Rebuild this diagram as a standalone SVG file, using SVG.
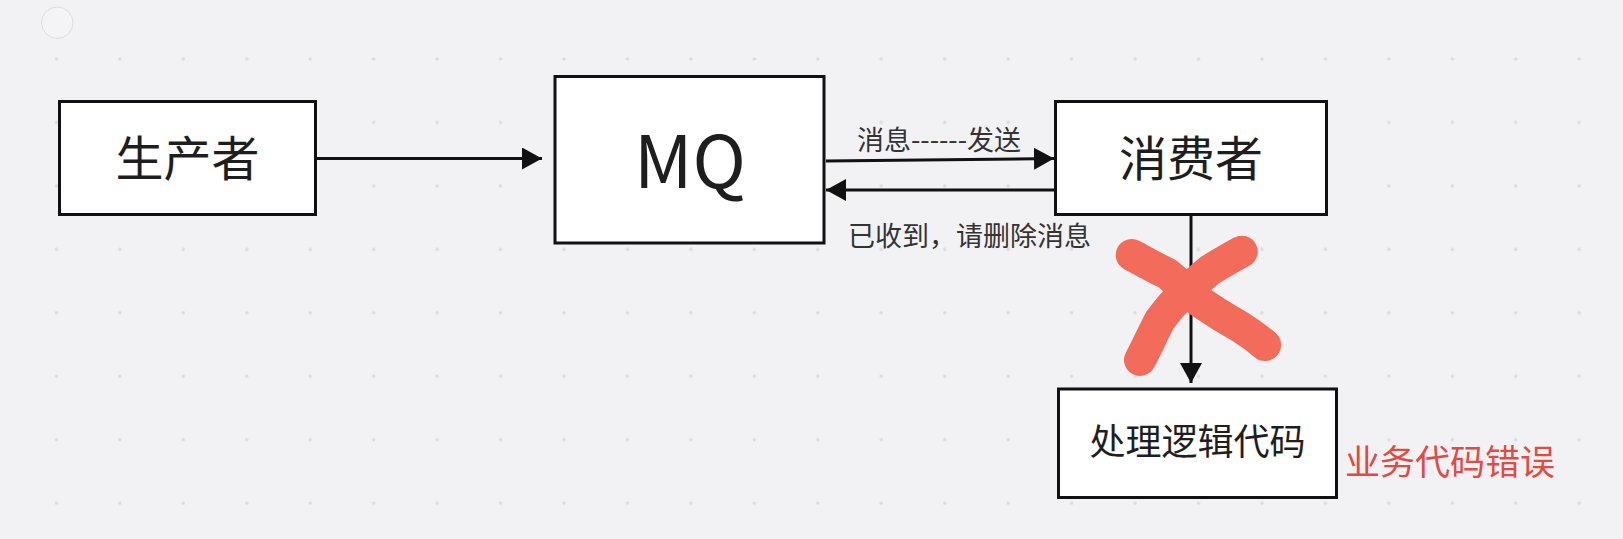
<svg xmlns="http://www.w3.org/2000/svg" width="1623" height="539" viewBox="0 0 1623 539">
<style>
.box{fill:#ffffff;stroke:#111111;stroke-width:3}
.edge{fill:none;stroke:#111111;stroke-width:3}
.t{font-family:"Noto Sans CJK SC","Noto Sans",sans-serif;fill:#1e1e1e;text-anchor:middle}
.lbl{font-family:"Noto Sans CJK SC","Noto Sans",sans-serif;fill:#333333;font-size:27px;text-anchor:middle}
.x{fill:none;stroke:#f36b5a;stroke-width:32;stroke-linecap:round;stroke-linejoin:round}
</style>
<defs>
<pattern id="dots" patternUnits="userSpaceOnUse" x="24.675" y="27.275" width="63.45" height="63.45">
<circle cx="31.725" cy="31.725" r="1.7" fill="#d9d9de"/>
</pattern>
<marker id="arr" markerUnits="userSpaceOnUse" markerWidth="20" markerHeight="22" refX="20" refY="11" orient="auto">
<path d="M0,0 L20,11 L0,22 z" fill="#111111"/>
</marker>
</defs>
<rect x="0" y="0" width="1623" height="539" fill="#f2f2f5"/>
<rect x="0" y="0" width="1623" height="539" fill="url(#dots)"/>
<circle cx="57.3" cy="22.7" r="15.7" fill="#f4f4f6" stroke="#dcdcdf" stroke-width="1"/>

<g id="connectors">
<line class="edge" x1="317" y1="158.5" x2="542" y2="158.5" marker-end="url(#arr)"/>
<line class="edge" x1="826" y1="161" x2="1054" y2="158.5" marker-end="url(#arr)"/>
<line class="edge" x1="1054" y1="190" x2="826" y2="190" marker-end="url(#arr)"/>
<line class="edge" x1="1191" y1="215" x2="1191" y2="383" marker-end="url(#arr)"/>
<text class="lbl" x="939" y="150">消息------发送</text>
<text class="lbl" x="969.5" y="246">已收到，请删除消息</text>
</g>

<g id="producer">
<rect class="box" x="59.5" y="101.5" width="256" height="113"/>
<text class="t" x="187.5" y="175.5" font-size="48">生产者</text>
</g>

<g id="mq">
<rect class="box" x="555" y="76.5" width="269" height="166.5"/>
<text class="t" x="690" y="188" font-size="72">MQ</text>
</g>

<g id="consumer">
<rect class="box" x="1055.5" y="101.5" width="271" height="113"/>
<text class="t" x="1191" y="175.5" font-size="48">消费者</text>
</g>

<g id="logic">
<rect class="box" x="1058.5" y="389" width="278" height="108.5"/>
<text class="t" x="1197.5" y="455" font-size="36">处理逻辑代码</text>
</g>

<g id="cross">
<path class="x" d="M1131.7,255 C1145,262 1155,268 1166.7,273.3 C1180,284 1190,294 1200,301.7 C1215,312 1228,320 1240,326.7 C1250,333 1258,339 1265,345"/>
<path class="x" d="M1241.7,251.7 C1230,258 1220,264 1210,270 C1198,280 1189,289 1180,296.7 C1172,304 1166,312 1160,320 C1153,333 1147,347 1140,360"/>
</g>

<text id="error" x="1345" y="475" font-family="Noto Sans CJK SC, Noto Sans, sans-serif" font-size="35" fill="#e04b43">业务代码错误</text>
</svg>
